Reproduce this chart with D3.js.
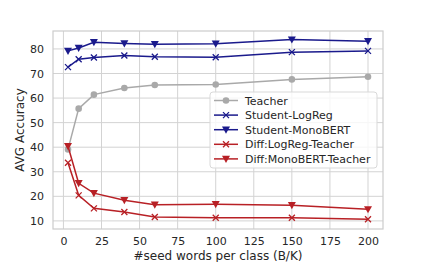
<!DOCTYPE html>
<html>
<head>
<meta charset="utf-8">
<script src="https://cdn.jsdelivr.net/npm/d3@7"></script>
<style>
  body { margin: 0; background: #fff; }
  text { font-family: "DejaVu Sans", sans-serif; fill: #262626; }
</style>
</head>
<body>
<div id="chart"></div>
<script>
var seeds = [3, 10, 20, 40, 60, 100, 150, 200];
var teacher = [39.1, 55.7, 61.4, 64.1, 65.3, 65.5, 67.6, 68.7];
var studentLogReg = [72.6, 75.8, 76.5, 77.3, 76.8, 76.6, 78.7, 79.2];
var studentMonoBERT = [79.2, 80.4, 82.7, 82.2, 81.9, 82.1, 83.8, 83.1];
var diffLogReg = [33.7, 20.4, 15.1, 13.6, 11.6, 11.3, 11.3, 10.7];
var diffMonoBERT = [40.4, 25.3, 21.3, 18.4, 16.6, 16.8, 16.4, 14.7];
var xTicks = [0, 25, 50, 75, 100, 125, 150, 175, 200];
var yTicks = [10, 20, 30, 40, 50, 60, 70, 80];

var series = [
  {name: "Teacher", values: teacher, color: "#a9a9a9", marker: "circle"},
  {name: "Student-LogReg", values: studentLogReg, color: "#1a1a8c", marker: "x"},
  {name: "Student-MonoBERT", values: studentMonoBERT, color: "#1a1a8c", marker: "tri"},
  {name: "Diff:LogReg-Teacher", values: diffLogReg, color: "#b82025", marker: "x"},
  {name: "Diff:MonoBERT-Teacher", values: diffMonoBERT, color: "#b82025", marker: "tri"}
];

var width = 425, height = 262;
var margin = {top: 31, right: 42, bottom: 33, left: 53};
var w = width - margin.left - margin.right,
    h = height - margin.top - margin.bottom;

var svg = d3.select("#chart").append("svg")
    .attr("width", width)
    .attr("height", height);

var xScale = d3.scaleLinear().domain([-6.85, 209.85]).range([0, w]);
var yScale = d3.scaleLinear().domain([6.7, 87.3]).range([h, 0]);

var g = svg.append("g")
    .attr("transform", "translate(" + margin.left + "," + margin.top + ")");

// grid
g.append("g").selectAll("line").data(xTicks).enter().append("line")
    .attr("x1", d => xScale(d)).attr("x2", d => xScale(d))
    .attr("y1", 0).attr("y2", h)
    .attr("stroke", "#d3d3d3").attr("stroke-width", 1);
g.append("g").selectAll("line").data(yTicks).enter().append("line")
    .attr("y1", d => yScale(d)).attr("y2", d => yScale(d))
    .attr("x1", 0).attr("x2", w)
    .attr("stroke", "#d3d3d3").attr("stroke-width", 1);

g.append("rect")
    .attr("width", w).attr("height", h)
    .attr("fill", "none").attr("stroke", "#cccccc").attr("stroke-width", 1.2);

// axes
var xAxis = g.append("g")
    .attr("transform", "translate(0," + h + ")")
    .call(d3.axisBottom(xScale).tickValues(xTicks).tickSize(0).tickPadding(8));
var yAxis = g.append("g")
    .call(d3.axisLeft(yScale).tickValues(yTicks).tickSize(0).tickPadding(9));
[xAxis, yAxis].forEach(function(a){
    a.select(".domain").remove();
    a.selectAll("text").attr("font-size", "11px").style("font-family", "DejaVu Sans").attr("fill", "#262626");
});

svg.append("text")
    .attr("x", margin.left + w / 2)
    .attr("y", 260)
    .attr("text-anchor", "middle")
    .attr("font-size", "12px")
    .text("#seed words per class (B/K)");

svg.append("text")
    .attr("transform", "translate(24," + (margin.top + h / 2) + ") rotate(-90)")
    .attr("text-anchor", "middle")
    .attr("font-size", "12px")
    .text("AVG Accuracy");

function drawMarker(sel, type, color) {
    if (type === "circle") {
        sel.append("circle").attr("r", 3.3).attr("fill", color);
    } else if (type === "x") {
        sel.append("path").attr("d", "M-3,-3L3,3M-3,3L3,-3")
            .attr("stroke", color).attr("stroke-width", 1.3).attr("fill", "none");
    } else {
        sel.append("path").attr("d", "M-4,-3.2L4,-3.2L0,4Z").attr("fill", color);
    }
}

var line = d3.line()
    .x((d, i) => xScale(seeds[i]))
    .y(d => yScale(d));

series.forEach(function(s){
    g.append("path")
        .datum(s.values)
        .attr("d", line)
        .attr("fill", "none")
        .attr("stroke", s.color)
        .attr("stroke-width", 1.5);
    g.selectAll(null).data(s.values).enter().append("g")
        .attr("transform", (d, i) => "translate(" + xScale(seeds[i]) + "," + yScale(d) + ")")
        .each(function(){ drawMarker(d3.select(this), s.marker, s.color); });
});

// legend
var legend = svg.append("g").attr("transform", "translate(210,92)");
legend.append("rect")
    .attr("width", 167).attr("height", 76)
    .attr("rx", 3)
    .attr("fill", "#fff").attr("fill-opacity", 0.8)
    .attr("stroke", "#d9d9d9");
series.forEach(function(s, i){
    var row = legend.append("g").attr("transform", "translate(0," + (8.5 + i * 14.6) + ")");
    row.append("line").attr("x1", 4).attr("x2", 28)
        .attr("stroke", s.color).attr("stroke-width", 1.5);
    drawMarker(row.append("g").attr("transform", "translate(16,0)"), s.marker, s.color);
    row.append("text").attr("x", 35).attr("y", 4)
        .attr("font-size", "11px")
        .text(s.name);
});
</script>
</body>
</html>
